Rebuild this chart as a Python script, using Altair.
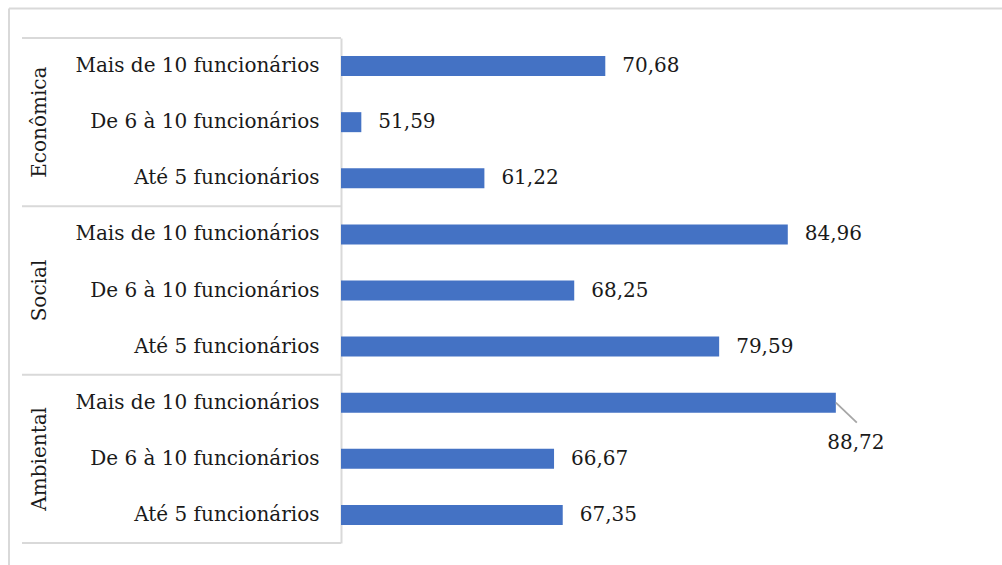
import altair as alt
import pandas as pd

groups = ["Econômica", "Econômica", "Econômica",
          "Social", "Social", "Social",
          "Ambiental", "Ambiental", "Ambiental"]
categories = ["Mais de 10 funcionários", "De 6 à 10 funcionários", "Até 5 funcionários"] * 3
values = [70.68, 51.59, 61.22,
          84.96, 68.25, 79.59,
          88.72, 66.67, 67.35]

keys = [f"{g}|{c}" for g, c in zip(groups, categories)]
order = list(keys)

df = pd.DataFrame({
    "key": keys,
    "group": groups,
    "category": categories,
    "value": values,
    "row": list(range(9)),
})

FONT = "DejaVu Serif"
FS = 20
TXT = "#1a1a1a"
GREY = "#d9d9d9"

yenc = alt.Y("key:N", sort=order,
             scale=alt.Scale(paddingInner=0, paddingOuter=0),
             axis=alt.Axis(title=None, ticks=False, labelPadding=22,
                           labelExpr="split(datum.label, '|')[1]",
                           labelFont=FONT, labelFontSize=FS, labelColor=TXT,
                           domainColor=GREY, domainWidth=2, labelLimit=400))
xenc = alt.X("value:Q", scale=alt.Scale(domain=[50, 100], nice=False, zero=False),
             axis=None)

base = alt.Chart(df)

bars = base.mark_bar(size=20, color="#4472C4").encode(
    x=xenc, x2=alt.datum(50), y=yenc)

labels = base.transform_filter("datum.value < 88").transform_calculate(
    txt="replace(format(datum.value, '.2f'), '.', ',')"
).mark_text(align="left", baseline="middle", dx=17, font=FONT, fontSize=FS, color=TXT).encode(
    x="value:Q", y=alt.Y("key:N", sort=order), text="txt:N")

big_label = base.transform_filter("datum.value >= 88").transform_calculate(
    txt="replace(format(datum.value, '.2f'), '.', ',')"
).mark_text(align="center", baseline="middle", dx=20, dy=40, font=FONT, fontSize=FS, color=TXT).encode(
    x="value:Q", y=alt.Y("key:N", sort=order), text="txt:N")

leader = base.transform_filter("datum.value >= 88").mark_rule(
    color="#a6a6a6", strokeWidth=1.8, x2Offset=21, y2Offset=20).encode(
    x="value:Q", x2="value:Q", y=alt.Y("key:N", sort=order), y2=alt.Y2("key:N"))

sep_top = base.transform_filter("datum.row % 3 == 0").mark_rule(
    color=GREY, strokeWidth=2).encode(
    y=alt.Y("key:N", sort=order, bandPosition=0), x=alt.value(-319), x2=alt.value(0))

sep_bot = base.transform_filter("datum.row == 8").mark_rule(
    color=GREY, strokeWidth=2).encode(
    y=alt.Y("key:N", sort=order, bandPosition=1), x=alt.value(-319), x2=alt.value(0))

group_txt = base.transform_filter("datum.row % 3 == 1").mark_text(
    angle=270, align="center", baseline="middle", font=FONT, fontSize=FS, color=TXT).encode(
    y=alt.Y("key:N", sort=order), x=alt.value(-301), text="group:N")

frame_top = alt.Chart(df.head(1)).mark_rule(color=GREY, strokeWidth=2).encode(
    x=alt.value(-332), x2=alt.value(700), y=alt.value(-29.5))
frame_left = alt.Chart(df.head(1)).mark_rule(color=GREY, strokeWidth=2).encode(
    x=alt.value(-332), y=alt.value(-29.5), y2=alt.value(600))

chart = alt.layer(frame_top, frame_left, sep_top, sep_bot, bars, labels, big_label, leader, group_txt).properties(
    width=639, height=505,
    padding={"left": 341, "top": 38, "right": 22, "bottom": 22},
    autosize=alt.AutoSizeParams(type="none"),
    background="white",
).configure_view(stroke="transparent", strokeWidth=0)

chart.save("out.html", embed_options={"renderer": "svg", "actions": False})
